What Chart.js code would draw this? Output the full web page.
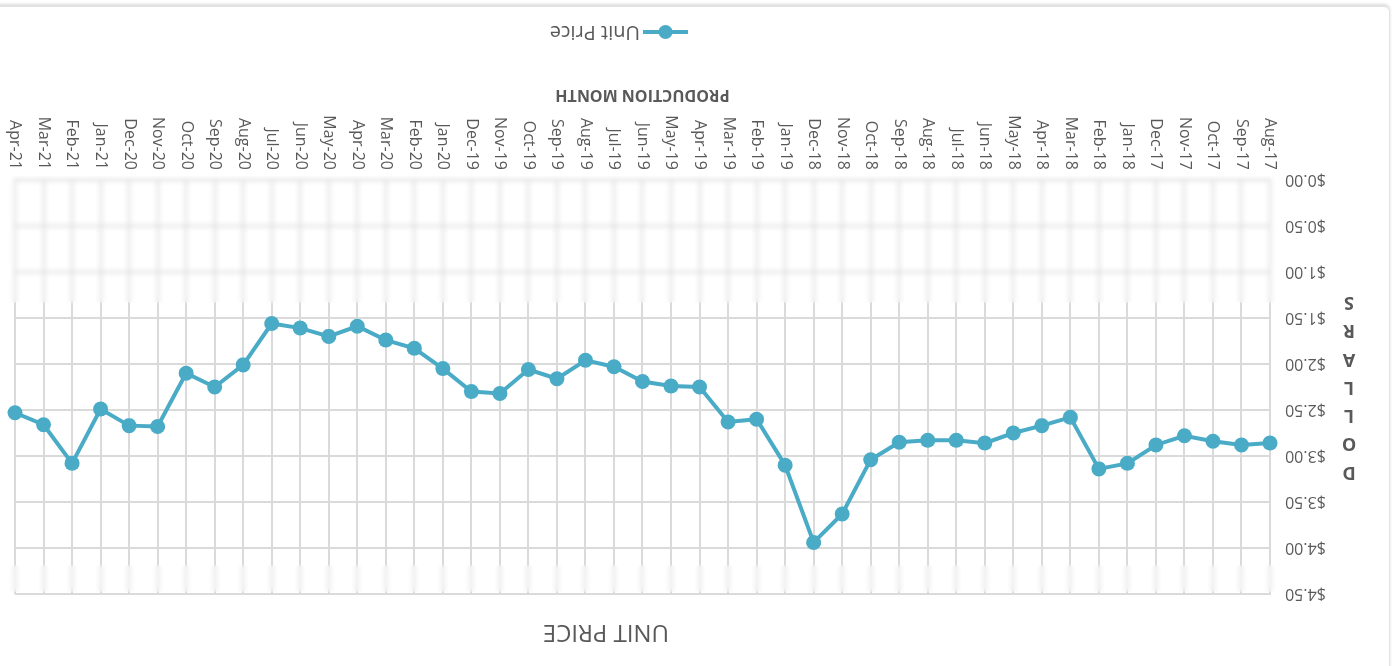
<!DOCTYPE html>
<html>
<head>
<meta charset="utf-8">
<title>Unit Price</title>
<script src="https://cdn.jsdelivr.net/npm/chart.js@4.4.1/dist/chart.umd.min.js"></script>
<style>
  html, body { margin: 0; padding: 0; background: #ffffff; overflow: hidden; width: 1396px; height: 666px; }
  #stage {
    position: absolute; left: 0; top: 0; width: 1396px; height: 666px;
    overflow: hidden; transform: rotate(180deg); transform-origin: 50% 50%;
  }
  #card {
    position: absolute; left: 6px; top: -30px; width: 1420px; height: 688px;
    background: #ffffff; border: 1.5px solid #e2e2e2; border-radius: 6px;
    box-shadow: 0 2px 3px rgba(0,0,0,0.14);
  }
  #chart { position: absolute; left: 0; top: 0; }
  .haze { position: absolute; backdrop-filter: blur(2.5px); -webkit-backdrop-filter: blur(2.5px); }
</style>
</head>
<body>
<div id="stage">
  <div id="card"></div>
  <canvas id="chart" width="1396" height="666"></canvas>
</div>
<div class="haze" style="left:0;top:176px;width:1280px;height:127px"></div>
<div class="haze" style="left:0;top:565px;width:1280px;height:27px"></div>
<script>
// Production months, Aug 2017 through Apr 2021
const months = [
  'Aug-17','Sep-17','Oct-17','Nov-17','Dec-17',
  'Jan-18','Feb-18','Mar-18','Apr-18','May-18','Jun-18','Jul-18','Aug-18','Sep-18','Oct-18','Nov-18','Dec-18',
  'Jan-19','Feb-19','Mar-19','Apr-19','May-19','Jun-19','Jul-19','Aug-19','Sep-19','Oct-19','Nov-19','Dec-19',
  'Jan-20','Feb-20','Mar-20','Apr-20','May-20','Jun-20','Jul-20','Aug-20','Sep-20','Oct-20','Nov-20','Dec-20',
  'Jan-21','Feb-21','Mar-21','Apr-21'
];

// Unit price in dollars for each month
const unitPrice = [
  2.86, 2.88, 2.84, 2.78, 2.88,
  3.08, 3.14, 2.58, 2.67, 2.75, 2.86, 2.83, 2.83, 2.85, 3.04, 3.63, 3.94,
  3.10, 2.60, 2.63, 2.25, 2.24, 2.19, 2.03, 1.96, 2.16, 2.06, 2.32, 2.30,
  2.05, 1.83, 1.74, 1.59, 1.70, 1.61, 1.56, 2.01, 2.25, 2.10, 2.68, 2.67,
  2.49, 3.08, 2.66, 2.53
];

// Dollar axis range and step
const priceMin = 0;
const priceMax = 4.5;
const priceStep = 0.5;

const chartTitle = 'UNIT PRICE';
const seriesName = 'Unit Price';
const valueAxisName = 'DOLLARS';
const monthAxisName = 'PRODUCTION MONTH';

const AQUA = '#4aabc7';
const GRID = '#dadada';
const TEXT = '#595959';
const FONT = '"Open Sans", "DejaVu Sans", sans-serif';

// Heading, stacked axis caption and legend key drawn onto the canvas
const captions = {
  id: 'captions',
  afterDraw(chart) {
    const { ctx, chartArea } = chart;
    ctx.save();
    ctx.fillStyle = TEXT;

    // chart heading
    ctx.font = '24px ' + FONT;
    ctx.textAlign = 'center';
    ctx.textBaseline = 'middle';
    ctx.fillText(chartTitle, 790, 34);

    // value axis caption, one upright letter per line
    ctx.font = 'bold 18px ' + FONT;
    const letters = valueAxisName.split('');
    const mid = (chartArea.top + chartArea.bottom) / 2;
    const step = 28.3;
    letters.forEach((ch, i) => {
      ctx.fillText(ch, 47, mid + (i - (letters.length - 1) / 2) * step);
    });

    // legend key: line with marker, then series name
    const ds = chart.data.datasets[0];
    const ly = 634;
    ctx.strokeStyle = ds.borderColor;
    ctx.lineWidth = 4;
    ctx.beginPath();
    ctx.moveTo(708, ly);
    ctx.lineTo(753, ly);
    ctx.stroke();
    ctx.fillStyle = ds.pointBackgroundColor;
    ctx.beginPath();
    ctx.arc(730.5, ly, 7, 0, Math.PI * 2);
    ctx.fill();
    ctx.fillStyle = TEXT;
    ctx.font = '20px ' + FONT;
    ctx.textAlign = 'left';
    ctx.fillText(ds.label, 756, ly);
    ctx.restore();
  }
};

new Chart(document.getElementById('chart').getContext('2d'), {
  type: 'line',
  data: {
    labels: months,
    datasets: [{
      label: seriesName,
      data: unitPrice,
      borderColor: AQUA,
      backgroundColor: AQUA,
      pointBackgroundColor: AQUA,
      pointBorderColor: AQUA,
      pointBorderWidth: 0,
      pointRadius: 7.5,
      borderWidth: 4,
      tension: 0,
      clip: false
    }]
  },
  options: {
    responsive: false,
    animation: false,
    devicePixelRatio: 1,
    layout: { padding: { top: 72, right: 15, bottom: 0, left: 0 } },
    plugins: {
      legend: { display: false },
      title: { display: false },
      tooltip: { enabled: false }
    },
    scales: {
      x: {
        offset: false,
        grid: { color: GRID, lineWidth: 2, drawTicks: false },
        border: { color: GRID, width: 2 },
        ticks: {
          autoSkip: false, maxRotation: 90, minRotation: 90, padding: 10,
          color: TEXT, font: { family: FONT, size: 16 }
        },
        title: {
          display: true, text: monthAxisName, color: TEXT,
          font: { family: FONT, size: 16, weight: 'bold' },
          padding: { top: 0, bottom: 85 }
        },
        afterFit(scale) {
          scale.height = 180;
          scale.paddingLeft = 0;
          scale.paddingRight = 0;
        }
      },
      y: {
        min: priceMin,
        max: priceMax,
        grid: { color: GRID, lineWidth: 2, drawTicks: false },
        border: { color: GRID, width: 2 },
        ticks: {
          stepSize: priceStep, padding: 15, color: TEXT,
          font: { family: FONT, size: 16 },
          callback: v => '$' + Number(v).toFixed(2)
        },
        afterFit(scale) { scale.width = 126; }
      }
    }
  },
  plugins: [captions]
});
</script>
</body>
</html>
